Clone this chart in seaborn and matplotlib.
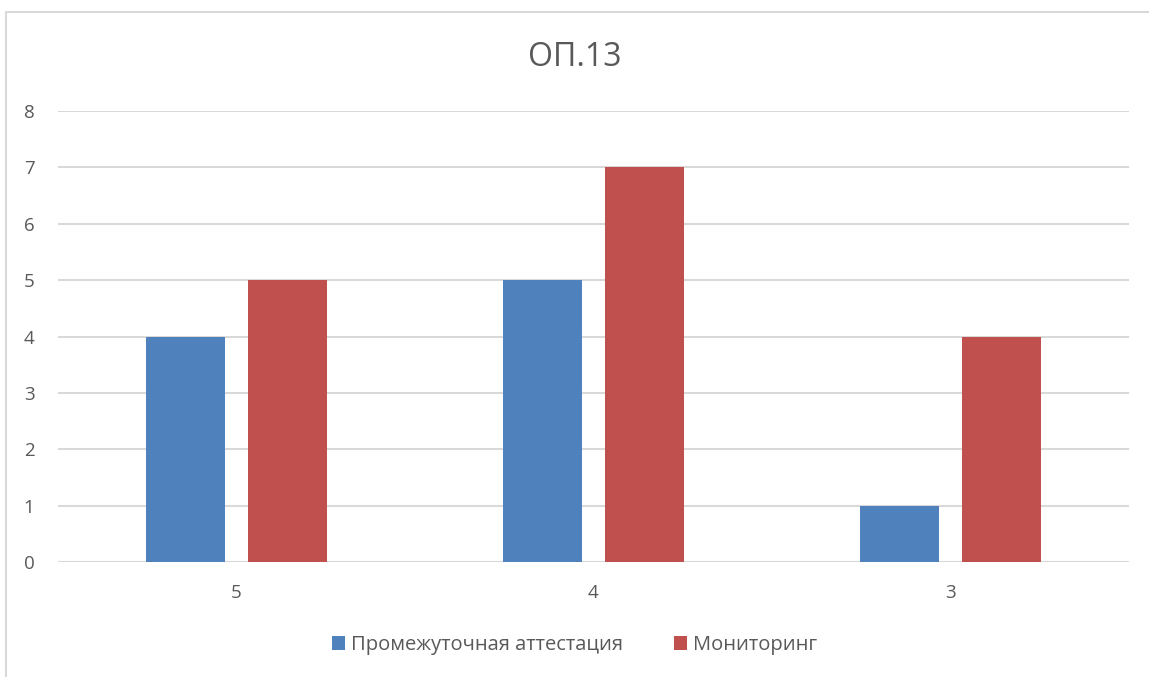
import seaborn as sns
import numpy as np
import pandas as pd
import matplotlib
matplotlib.use("Agg")
import matplotlib.pyplot as plt
from matplotlib.patches import Rectangle

grades = ["5", "4", "3"]
series_names = ["Промежуточная аттестация", "Мониторинг"]
attestation = [4, 5, 1]
monitoring = [5, 7, 4]
colors = ["#4F81BD", "#C0504D"]
text_gray = "#595959"
grid_gray = "#D9D9D9"

df = pd.DataFrame({
    "grade": grades * 2,
    "value": attestation + monitoring,
    "series": [series_names[0]] * 3 + [series_names[1]] * 3,
})

sns.set_theme(style="white")
plt.rcParams['font.family'] = ['Open Sans', 'DejaVu Sans']

fig = plt.figure(figsize=(11.49, 6.77), dpi=100)
ax = fig.add_axes([58 / 1149, 1 - 562 / 677, 1071 / 1149, 451 / 677])

sns.barplot(data=df, x="grade", y="value", hue="series", order=grades,
            hue_order=series_names, palette=colors, width=0.572, gap=0.22,
            saturation=1, linewidth=0, ax=ax, legend=True)

ax.set_xlim(-0.5, 2.5)
ax.set_ylim(0, 8)
ax.set_yticks(range(0, 9))
ax.yaxis.grid(True, color=grid_gray, linewidth=1.5)
ax.set_axisbelow(True)
for s in ax.spines.values():
    s.set_visible(False)
ax.tick_params(axis="both", length=0, labelsize=13.5, colors=text_gray)
ax.tick_params(axis="y", pad=17)
ax.tick_params(axis="x", pad=16)
ax.set_xlabel("")
ax.set_ylabel("")

fig.text(0.5, 1 - 58 / 677, "ОП.13", ha="center", va="center",
         fontsize=23, color=text_gray)

handles, labels = ax.get_legend_handles_labels()
ax.legend_.remove()
fig.legend(handles, labels, loc="center", bbox_to_anchor=(0.5, 1 - 645 / 677),
           ncol=2, frameon=False, fontsize=14.5, labelcolor=text_gray,
           handlelength=0.65, handleheight=0.65, handletextpad=0.3,
           columnspacing=2.5)

fig.patches.append(Rectangle((6 / 1149, -0.1), 1.2, 1 - 12 / 677 + 0.1,
                             transform=fig.transFigure, fill=False,
                             edgecolor=grid_gray, linewidth=1.5))

fig.savefig("out.png", dpi=100, facecolor="white")
